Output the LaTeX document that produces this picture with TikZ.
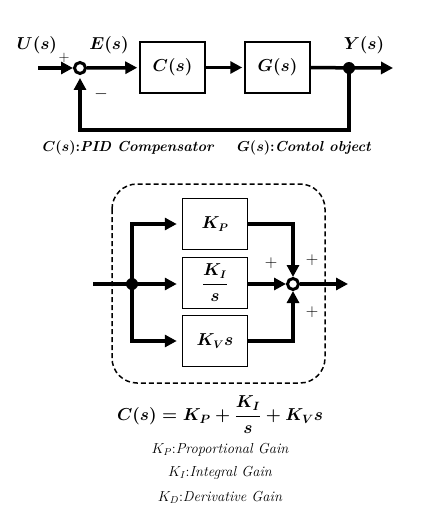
\documentclass[tikz,border=0pt]{standalone}
\usepackage{amsmath,amsfonts,amssymb}
\usetikzlibrary{arrows.meta, calc, positioning}
\tikzset{%
    pri/.style={line width = 3.5pt},
    pria/.style={line width = 3.5pt, -{Stealth[length=12pt, width=12pt, inset=0pt]}},
    blo/.style={rectangle, draw, line width=1.5pt, minimum width=65pt, minimum height=51pt, inner sep=0pt, font=\fontsize{16}{19}\selectfont\boldmath},
    sum/.style={circle, draw, line width=3pt, minimum size=11pt, inner sep=0pt},
    dot/.style={circle, fill, minimum size=12pt, inner sep=0pt},
    lab/.style={font=\fontsize{18}{21}\selectfont\boldmath},
    sgn/.style={font=\fontsize{17}{19}\selectfont},
    capt/.style={font=\fontsize{14.5}{17}\selectfont\bfseries\itshape\boldmath},
    gain/.style={font=\fontsize{14.5}{17}\selectfont\itshape},
}

\begin{document}
\begin{tikzpicture}[x=1pt, y=-1pt]
    \useasboundingbox (0,0) rectangle (430,516);
    % closed loop
    \coordinate (u) at (38,68);
    \node [sum] (sum1) at (80,68) {};
    \node [blo] (cbox) at (172.5,67.5) {$C(s)$};
    \node [blo] (gbox) at (277.5,67.5) {$G(s)$};
    \node [dot] (dot1) at (349,68) {};
    \coordinate (y) at (393,68);
    \coordinate (fb) at (80,130);
    \draw [pria] (u) -- (sum1.west);
    \draw [pria, shorten >=2pt] (sum1) -- (cbox);
    \draw [pria, shorten >=2pt] (cbox) -- (gbox);
    \draw [pria] (gbox) -- (y);
    \draw [pria, shorten >=3pt] (dot1.center) |- (fb) -- (sum1.south);
    \node [lab] (ulab) at (37,45) {$U(s)$};
    \node [sgn, font=\fontsize{15}{17}\selectfont] (plus1) at (64,58) {$+$};
    \node [lab] (elab) at (109,45) {$E(s)$};
    \node [lab] (ylab) at (364,45) {$Y(s)$};
    \node [sgn] (minus1) at (101,94) {$-$};
    \node [capt] (ccap) at (128,148) {$C(s)$\textup{:}PID Compensator};
    \node [capt] (gcap) at (304,148) {$G(s)$\textup{:}Contol object};
    % PID compensator
    \draw [line width=1.5pt, dash pattern=on 5pt off 3pt, rounded corners=25pt] (112,184) rectangle (325,383);
    \coordinate (in2) at (93,284);
    \node [dot] (dot2) at (132,284) {};
    \node [blo] (kp) at (215,224) {$K_P$};
    \node [blo] (ki) at (215,283) {$\dfrac{K_I}{s}$};
    \node [blo] (kv) at (215,341) {$K_V s$};
    \node [sum] (sum2) at (293,284) {};
    \coordinate (out2) at (348,284);
    \draw [pri] (in2) -- (dot2.center);
    \draw [pria, shorten >=5pt] (dot2.center) |- (kp.west);
    \draw [pria, shorten >=5pt] (dot2.center) -- (ki.west |- dot2);
    \draw [pria, shorten >=5pt] (dot2.center) |- (kv.west);
    \draw [pria] (kp.east) -| (sum2.north);
    \draw [pria] (ki.east |- sum2) -- (sum2.west);
    \draw [pria] (kv.east) -| (sum2.south);
    \draw [pria] (sum2.east) -- (out2);
    \node [sgn] (plus2) at (271,263) {$+$};
    \node [sgn] (plus3) at (312,260) {$+$};
    \node [sgn] (plus4) at (312,312) {$+$};
    % formula
    \node [font=\fontsize{17}{20}\selectfont\boldmath] (cform) at (220,415) {$C(s)=K_P+\dfrac{K_I}{s}+K_V s$};
    \node [gain] (gp) at (220,450) {$K_P$\textup{:}Proportional Gain};
    \node [gain] (gi) at (220,473) {$K_I$\textup{:}Integral Gain};
    \node [gain] (gd) at (220,497) {$K_D$\textup{:}Derivative Gain};
\end{tikzpicture}
\end{document}
